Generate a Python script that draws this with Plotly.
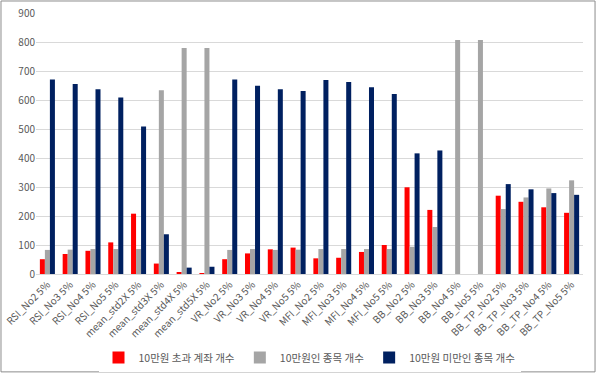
import plotly.graph_objects as go

categories = ["RSI_No2 5%", "RSI_No3 5%", "RSI_No4 5%", "RSI_No5 5%",
              "mean_std2X 5%", "mean_std3X 5%", "mean_std4X 5%", "mean_std5X 5%",
              "VR_No2 5%", "VR_No3 5%", "VR_No4 5%", "VR_No5 5%",
              "MFI_No2 5%", "MFI_No3 5%", "MFI_No4 5%", "MFI_No5 5%",
              "BB_No2 5%", "BB_No3 5%", "BB_No4 5%", "BB_No5 5%",
              "BB_TP_No2 5%", "BB_TP_No3 5%", "BB_TP_No4 5%", "BB_TP_No5 5%"]

over_100k = [51, 69, 80, 109, 208, 36, 7, 3, 51, 71, 85, 91,
             54, 56, 76, 100, 299, 221, 0, 0, 270, 249, 230, 211]
eq_100k = [83, 84, 86, 86, 86, 634, 779, 779, 83, 86, 83, 84,
           86, 86, 86, 86, 94, 162, 807, 807, 224, 264, 295, 323]
under_100k = [671, 655, 637, 609, 509, 137, 22, 25, 671, 649, 637, 631,
              669, 662, 644, 621, 416, 426, 0, 0, 310, 292, 279, 273]

series_names = ["10만원 초과 계좌 개수", "10만원인 종목 개수", "10만원 미만인 종목 개수"]
colors = ["#ff0000", "#a5a5a5", "#002060"]
y_ticks = [0, 100, 200, 300, 400, 500, 600, 700, 800, 900]

font_family = "Noto Sans CJK KR, Noto Sans, sans-serif"

fig = go.Figure()
for name, vals, c in zip(series_names, [over_100k, eq_100k, under_100k], colors):
    fig.add_trace(go.Bar(x=categories, y=vals, name=name, marker_color=c,
                         marker_line_width=0))

fig.update_layout(
    width=597, height=375,
    margin=dict(l=36, r=14, t=13, b=101, autoexpand=False),
    paper_bgcolor="white", plot_bgcolor="white",
    barmode="group", bargap=0.34, bargroupgap=0,
    font=dict(family=font_family, color="#595959", size=10),
    showlegend=True,
    legend=dict(orientation="h", x=0.5, xanchor="center", y=-0.32, yanchor="middle",
                font=dict(size=10.5, color="#595959"), itemwidth=30,
                tracegroupgap=0, traceorder="normal"),
    xaxis=dict(tickangle=-45, tickfont=dict(size=10, color="#595959"),
               showline=True, linecolor="#d9d9d9", linewidth=1, ticks="",
               automargin=False),
    yaxis=dict(range=[0, 900], tickvals=y_ticks, showgrid=True, gridcolor="#d9d9d9",
               gridwidth=1, zeroline=False, tickfont=dict(size=10, color="#595959"),
               ticks="", automargin=False),
    shapes=[dict(type="rect", xref="paper", yref="paper", x0=-0.064, x1=1.022,
                 y0=-0.375, y1=1.046, line=dict(color="#8c8c8c", width=1))],
)

fig.write_html("out.html", config={"displayModeBar": False},
               post_script="document.body.style.margin='0';document.body.style.overflow='hidden';")
